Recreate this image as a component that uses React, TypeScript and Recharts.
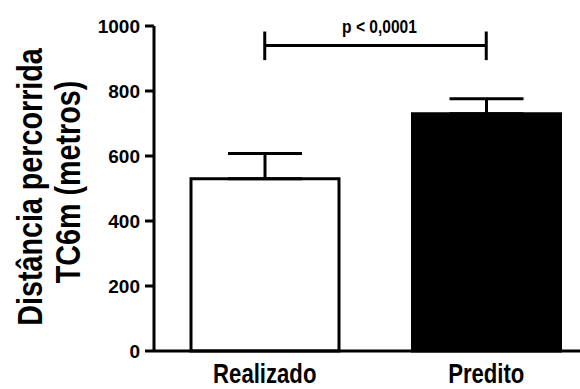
import React from "react";
import {
  BarChart,
  Bar,
  Cell,
  XAxis,
  YAxis,
  ErrorBar,
  ReferenceLine,
} from "recharts";

const categories = ["Realizado", "Predito"];
const means = [530, 730];
const upperErrors = [78, 46];
const fills = ["#FFFFFF", "#000000"];
const yTicks = [0, 200, 400, 600, 800, 1000];
const pLabel = "p < 0,0001";
const bracketY = 940;

const SANS = '"Liberation Sans", Arial, sans-serif';
const SQUEEZE = 0.82; // no narrow font installed, so condense by hand

const data = categories.map((name, i) => ({
  name,
  mean: means[i],
  err: [0, upperErrors[i]],
}));

// bold condensed text centred on (x, y), optionally rotated
const Narrow = ({ x, y, size, rotate = 0, children }: any) => (
  <text
    transform={`translate(${x},${y}) rotate(${rotate}) scale(${SQUEEZE},1)`}
    textAnchor="middle"
    fontFamily={SANS}
    fontWeight="bold"
    fontSize={size}
    fill="#000"
  >
    {children}
  </text>
);

const XTick = ({ x, payload }: any) => (
  <Narrow x={x} y={383} size={27}>
    {payload.value}
  </Narrow>
);

const YLabel = () => (
  <g>
    <Narrow x={42} y={187} size={35} rotate={-90}>
      Distância percorrida
    </Narrow>
    <Narrow x={80} y={182} size={35} rotate={-90}>
      TC6m (metros)
    </Narrow>
  </g>
);

const PLabel = ({ viewBox }: any) => {
  if (!viewBox) return null;
  return (
    <Narrow x={viewBox.x + viewBox.width / 2 + 4} y={viewBox.y - 13} size={19}>
      {pLabel}
    </Narrow>
  );
};

export default function App() {
  return (
    <div style={{ position: "absolute", left: 0, top: 0, background: "#fff" }}>
      <BarChart
        width={580}
        height={389}
        data={data}
        margin={{ top: 26, right: 0, bottom: 0, left: 0 }}
      >
        <XAxis
          dataKey="name"
          padding={{ left: 0, right: -17 }}
          tickLine={false}
          tickSize={0}
          height={38}
          axisLine={{ stroke: "#000", strokeWidth: 3 }}
          tick={<XTick />}
        />
        <YAxis
          width={154}
          domain={[0, 1000]}
          ticks={yTicks}
          interval={0}
          tickSize={9}
          tickMargin={5}
          axisLine={{ stroke: "#000", strokeWidth: 3 }}
          tickLine={{ stroke: "#000", strokeWidth: 3 }}
          tick={{ fill: "#000", fontFamily: SANS, fontWeight: "bold", fontSize: 19 }}
          label={<YLabel />}
        />
        <Bar dataKey="mean" barSize={148} stroke="#000" strokeWidth={3} isAnimationActive={false}>
          {data.map((_, i) => (
            <Cell key={`c-${i}`} fill={fills[i]} />
          ))}
          <ErrorBar dataKey="err" width={37} stroke="#000" strokeWidth={3} direction="y" />
        </Bar>
        <ReferenceLine
          segment={[
            { x: categories[0], y: bracketY },
            { x: categories[1], y: bracketY },
          ]}
          stroke="#000"
          strokeWidth={3}
          label={<PLabel />}
        />
        <ReferenceLine
          segment={[
            { x: categories[0], y: 895 },
            { x: categories[0], y: 983 },
          ]}
          stroke="#000"
          strokeWidth={3}
        />
        <ReferenceLine
          segment={[
            { x: categories[1], y: 895 },
            { x: categories[1], y: 983 },
          ]}
          stroke="#000"
          strokeWidth={3}
        />
      </BarChart>
    </div>
  );
}
